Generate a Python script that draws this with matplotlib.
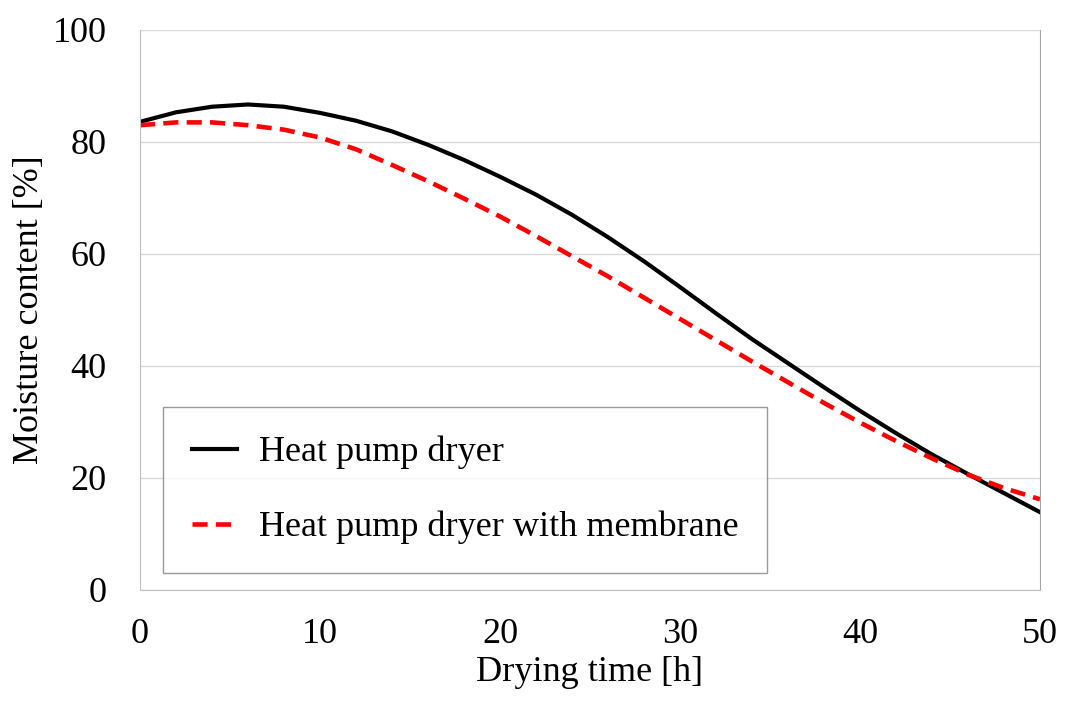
import matplotlib
matplotlib.use("Agg")
import matplotlib.pyplot as plt

# Drying time [h]
time_h = [0, 2, 4, 6, 8, 10, 12, 14, 16, 18, 20, 22, 24, 26,
          28, 30, 32, 34, 36, 38, 40, 42, 44, 46, 48, 50]
# Moisture content [%]
hp_dryer = [83.6, 85.3, 86.3, 86.7, 86.3, 85.2, 83.8, 81.9, 79.5, 76.8, 73.8, 70.6, 67.0, 63.0,
            58.7, 54.1, 49.4, 44.8, 40.5, 36.2, 32.0, 28.0, 24.2, 20.7, 17.3, 13.9]
hp_membrane = [83.0, 83.5, 83.5, 83.0, 82.2, 80.8, 78.7, 75.9, 73.0, 69.9, 66.7, 63.2, 59.6, 56.0,
               52.2, 48.4, 44.6, 40.8, 37.1, 33.4, 29.9, 26.6, 23.5, 20.6, 18.2, 16.2]

plt.rcParams['font.family'] = ['Liberation Serif', 'DejaVu Serif']

fig = plt.figure(figsize=(10.67, 7.06), dpi=100)
ax = fig.add_axes([140 / 1067, 1 - 590 / 706, 900 / 1067, 560 / 706])

ax.plot(time_h, hp_dryer, color='black', linewidth=3, label='Heat pump dryer')
ax.plot(time_h, hp_membrane, color='#FF0000', linewidth=3.3, dashes=(3.3, 1.8),
        label='Heat pump dryer with membrane')

ax.set_xlim(0, 50)
ax.set_ylim(0, 100)
ax.set_xticks([0, 10, 20, 30, 40, 50])
ax.set_yticks([0, 20, 40, 60, 80, 100])
ax.tick_params(axis='both', length=0, labelsize=26)
ax.tick_params(axis='y', pad=24)
ax.tick_params(axis='x', pad=20)

ax.grid(axis='y', color='#D9D9D9', linewidth=1)
ax.set_axisbelow(True)
for side in ['left', 'bottom']:
    ax.spines[side].set_color('#BFBFBF')
ax.spines['right'].set_color('#A6A6A6')
ax.spines['top'].set_visible(False)

ax.set_xlabel('Drying time [h]', fontsize=26, labelpad=4)
ax.set_ylabel('Moisture content [%]', fontsize=26, labelpad=5)

leg = ax.legend(loc='lower left', bbox_to_anchor=(0.0256, 0.030, 0.671, 0.30),
                mode='expand', borderaxespad=0, fontsize=26, frameon=True,
                fancybox=False, edgecolor='#808080', handlelength=1.25,
                handletextpad=0.6, labelspacing=1.15, borderpad=0.8)
leg.get_frame().set_linewidth(1)

fig.savefig('out.png', dpi=100)
